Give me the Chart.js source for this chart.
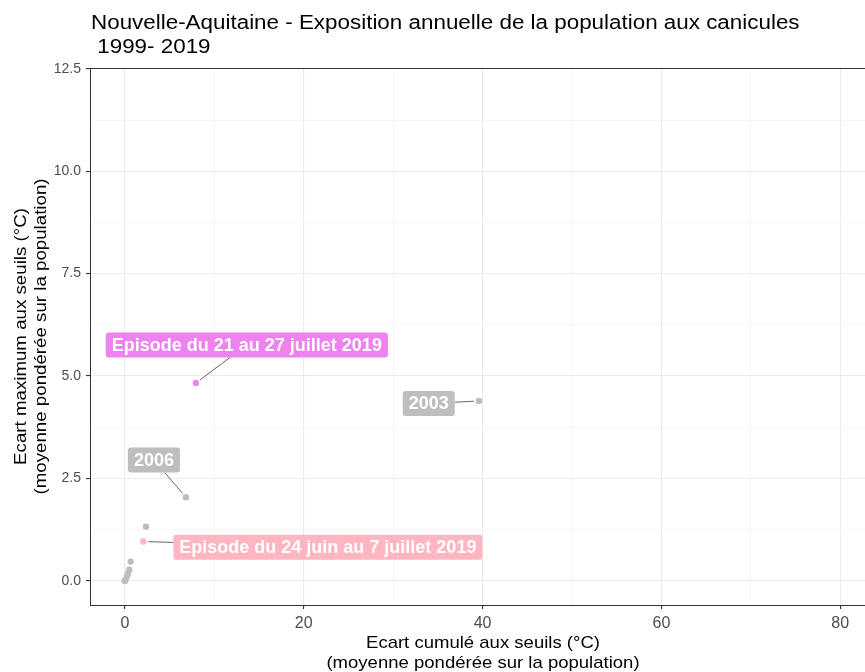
<!DOCTYPE html>
<html>
<head>
<meta charset="utf-8">
<script src="https://cdn.jsdelivr.net/npm/chart.js@4/dist/chart.umd.min.js"></script>
<style>
  html, body { margin: 0; padding: 0; overflow: hidden; background: #fff; width: 865px; height: 672px; }
  canvas { display: block; }
</style>
</head>
<body>
<canvas id="heat-chart" width="880" height="672"></canvas>
<script>
// yearly points 1999-2019 (gray)
const yearX = [0, 0, 0, 0.07, 0.23, 0.35, 0.49, 0.65, 2.36, 6.83, 39.6];
const yearY = [0, 0, 0, 0.02, 0.11, 0.18, 0.27, 0.47, 1.32, 2.04, 4.39];
const yearNames = ["", "", "", "", "", "", "", "", "", "2006", "2003"];

// the two 2019 episodes
const episodeNames = ["Episode du 21 au 27 juillet 2019", "Episode du 24 juin au 7 juillet 2019"];
const episodeX = [7.94, 2.06];
const episodeY = [4.83, 0.96];

const xTicks = [0, 20, 40, 60, 80];
const xMinor = [10, 30, 50, 70];
const yTicks = [0, 2.5, 5, 7.5, 10, 12.5];
const yMinor = [1.25, 3.75, 6.25, 8.75, 11.25];

const FONT = '"Liberation Sans", Arial, sans-serif';
const GRAY = "#BEBEBE";
const VIOLET = "#EE82EE";
const PINK = "#FFB6C1";

// where the repelled labels sit (data units, label centre)
const labelSpots = [
    { text: yearNames[10], fill: GRAY, px: yearX[10], py: yearY[10], lx: 33.98, ly: 4.33 },
    { text: yearNames[9], fill: GRAY, px: yearX[9], py: yearY[9], lx: 3.25, ly: 2.95 },
    { text: episodeNames[0], fill: VIOLET, px: episodeX[0], py: episodeY[0], lx: 13.64, ly: 5.76 },
    { text: episodeNames[1], fill: PINK, px: episodeX[1], py: episodeY[1], lx: 22.7, ly: 0.82 }
];

const toPts = (xs, ys) => xs.map((x, i) => ({ x: x, y: ys[i] }));

// the reference fonts run wider than Liberation Sans, so stretch along the text
function stretchedText(ctx, text, x, y, sx) {
    ctx.save();
    ctx.translate(x, y);
    ctx.scale(sx, 1);
    ctx.fillText(text, 0, 0);
    ctx.restore();
}

const repelLabels = {
    id: "repelLabels",
    afterDatasetsDraw(chart) {
        const ctx = chart.ctx;
        const sx = chart.scales.x, sy = chart.scales.y;
        ctx.save();
        ctx.font = "bold 18px " + FONT;
        labelSpots.forEach(l => {
            const cx = sx.getPixelForValue(l.lx), cy = sy.getPixelForValue(l.ly);
            const px = sx.getPixelForValue(l.px), py = sy.getPixelForValue(l.py);
            const w = ctx.measureText(l.text).width + 12, h = 25;
            // segment from box edge to near the point
            const dx = px - cx, dy = py - cy;
            const len = Math.hypot(dx, dy);
            const t0 = Math.min(dx ? (w / 2) / Math.abs(dx) : 99, dy ? (h / 2) / Math.abs(dy) : 99);
            const t1 = 1 - 5 / len;
            if (t1 > t0) {
                ctx.strokeStyle = "#555";
                ctx.lineWidth = 0.9;
                ctx.beginPath();
                ctx.moveTo(cx + dx * t0, cy + dy * t0);
                ctx.lineTo(cx + dx * t1, cy + dy * t1);
                ctx.stroke();
            }
            ctx.fillStyle = l.fill;
            ctx.beginPath();
            ctx.roundRect(cx - w / 2, cy - h / 2, w, h, 3);
            ctx.fill();
            ctx.fillStyle = "#fff";
            ctx.textAlign = "center";
            ctx.textBaseline = "middle";
            ctx.fillText(l.text, cx, cy + 1);
        });
        ctx.restore();
    },
    afterDraw(chart) {
        const ctx = chart.ctx;
        const a = chart.chartArea;
        ctx.save();
        // panel border
        ctx.strokeStyle = "#333";
        ctx.lineWidth = 1;
        ctx.strokeRect(Math.round(a.left) + 0.5, Math.round(a.top) + 0.5, Math.round(a.right - a.left), Math.round(a.bottom - a.top));
        // title
        ctx.fillStyle = "#000";
        ctx.textAlign = "left";
        ctx.textBaseline = "alphabetic";
        ctx.font = "20px " + FONT;
        stretchedText(ctx, "Nouvelle-Aquitaine - Exposition annuelle de la population aux canicules", 91, 29, 1.12);
        stretchedText(ctx, " 1999- 2019", 91, 53, 1.12);
        // axis titles
        ctx.font = "17px " + FONT;
        ctx.textAlign = "center";
        const mx = (a.left + a.right) / 2;
        stretchedText(ctx, "Ecart cumulé aux seuils (°C)", mx, 648, 1.09);
        stretchedText(ctx, "(moyenne pondérée sur la population)", mx, 668, 1.09);
        const my = (a.top + a.bottom) / 2;
        ctx.translate(0, my);
        ctx.rotate(-Math.PI / 2);
        stretchedText(ctx, "Ecart maximum aux seuils (°C)", 0, 26, 1.1);
        stretchedText(ctx, "(moyenne pondérée sur la population)", 0, 46, 1.1);
        ctx.restore();
    }
};

const isMajor = (list, v) => list.some(t => Math.abs(t - v) < 1e-9);

new Chart(document.getElementById("heat-chart"), {
    type: "scatter",
    data: {
        datasets: [
            {
                label: "Années",
                data: toPts(yearX, yearY),
                backgroundColor: GRAY,
                borderWidth: 0,
                pointRadius: 3.2
            },
            {
                label: "Episodes 2019",
                data: toPts(episodeX, episodeY),
                backgroundColor: [VIOLET, PINK],
                borderWidth: 0,
                pointRadius: 3.2
            }
        ]
    },
    options: {
        responsive: false,
        animation: false,
        events: [],
        layout: { padding: { top: 68, right: 3, left: 0, bottom: 0 } },
        plugins: {
            legend: { display: false },
            tooltip: { enabled: false },
            title: { display: false }
        },
        scales: {
            x: {
                type: "linear",
                min: -3.9,
                max: 84,
                afterBuildTicks: s => { s.ticks = xTicks.concat(xMinor).sort((a, b) => a - b).map(v => ({ value: v })); },
                afterFit: s => { s.height = 67; },
                border: { display: false },
                grid: {
                    color: c => isMajor(xTicks, c.tick.value) ? "#EBEBEB" : "#F2F2F2",
                    lineWidth: c => isMajor(xTicks, c.tick.value) ? 1.1 : 0.7,
                    tickColor: c => isMajor(xTicks, c.tick.value) ? "#333" : "rgba(0,0,0,0)",
                    tickLength: 4
                },
                ticks: {
                    autoSkip: false,
                    maxRotation: 0,
                    padding: 5,
                    color: "#4D4D4D",
                    font: { family: FONT, size: 16 },
                    callback: v => isMajor(xTicks, v) ? String(v) : ""
                }
            },
            y: {
                type: "linear",
                min: -0.59,
                max: 12.52,
                afterBuildTicks: s => { s.ticks = yTicks.concat(yMinor).sort((a, b) => a - b).map(v => ({ value: v })); },
                afterFit: s => { s.width = 90; },
                border: { display: false },
                grid: {
                    color: c => isMajor(yTicks, c.tick.value) ? "#EBEBEB" : "#F2F2F2",
                    lineWidth: c => isMajor(yTicks, c.tick.value) ? 1.1 : 0.7,
                    tickColor: c => isMajor(yTicks, c.tick.value) ? "#333" : "rgba(0,0,0,0)",
                    tickLength: 4
                },
                ticks: {
                    autoSkip: false,
                    padding: 5,
                    color: "#4D4D4D",
                    font: { family: FONT, size: 14 },
                    callback: v => isMajor(yTicks, v) ? v.toFixed(1) : ""
                }
            }
        }
    },
    plugins: [repelLabels]
});
</script>
</body>
</html>
